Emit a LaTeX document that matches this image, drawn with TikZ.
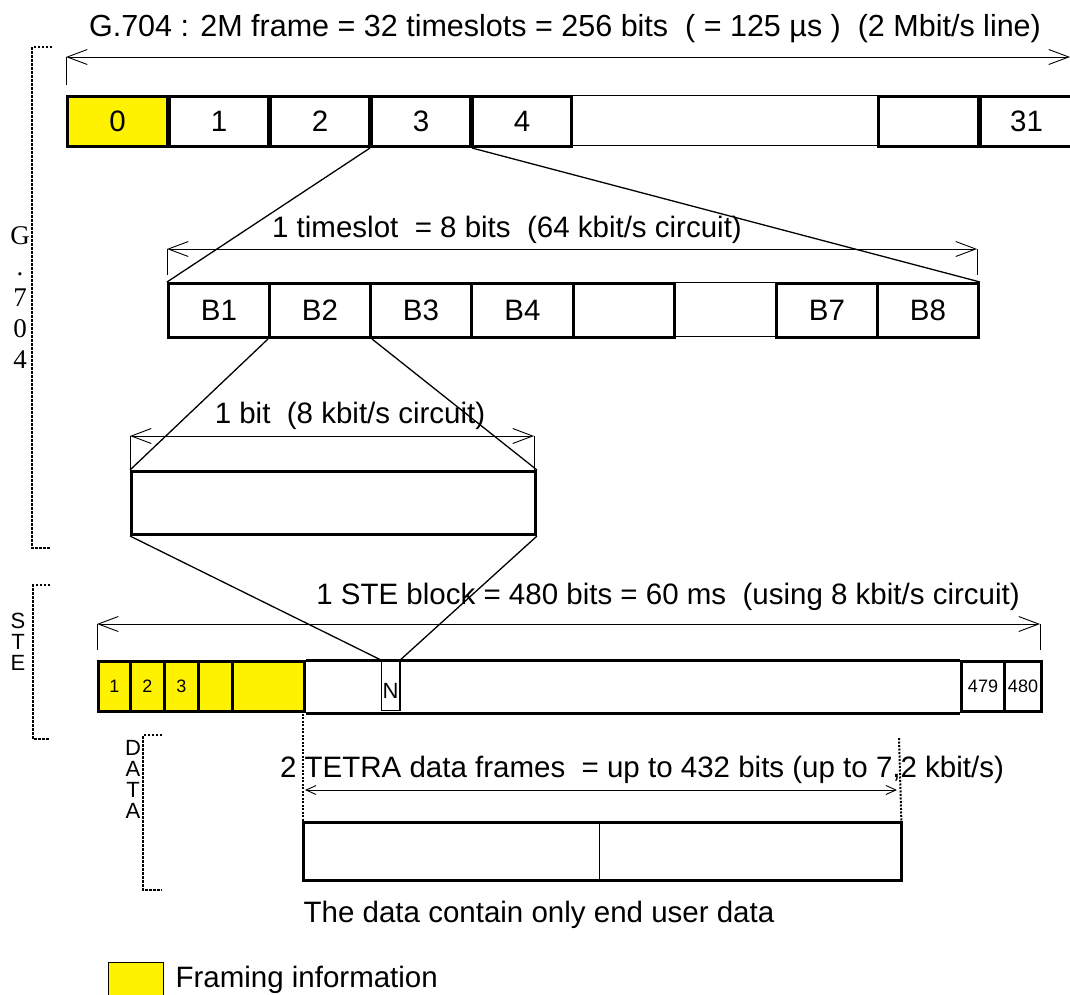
\documentclass[tikz,border=0pt]{standalone}
\usepackage{fontspec}
\setmainfont{Liberation Sans}
\newfontfamily\serifface{Liberation Serif}
\usetikzlibrary{arrows.meta}

\tikzset{
  slot/.style={draw,line width=3pt,inner sep=0pt,anchor=north west,font=\fontsize{29.5}{32}\selectfont},
  thinslot/.style={draw,line width=1.2pt,inner sep=0pt,anchor=north west},
  bare/.style={inner sep=0pt,anchor=north west},
  framing/.style={fill=yellow},
  small/.style={font=\fontsize{18}{20}\selectfont},
  big/.style={font=\fontsize{29.5}{32}\selectfont},
  stack/.style={font=\fontsize{22}{21}\selectfont,align=center,inner sep=0pt},
  dim/.style={line width=0.9pt,{Straight Barb[length=20pt,width=15pt]}-{Straight Barb[length=20pt,width=15pt]}},
  shortdim/.style={line width=0.9pt,{Straight Barb[length=10pt,width=9pt]}-{Straight Barb[length=10pt,width=9pt]}},
  tick/.style={line width=0.9pt},
  link/.style={line width=1.3pt},
  bracket/.style={line width=2.5pt,dash pattern=on 2.5pt off 1.5pt},
  guide/.style={line width=2pt,dash pattern=on 2pt off 1.5pt},
}

\begin{document}
\begin{tikzpicture}[x=1pt,y=-1pt]
  \useasboundingbox (0,0) rectangle (1070,994);

  % G.704 frame of 32 timeslots
  \node[font=\fontsize{30.5}{32}\selectfont] (frametitle) at (565,29) {G.704 : 2M frame = 32 timeslots = 256 bits\ \ ( = 125 µs )\ \ (2 Mbit/s line)};
  \coordinate (frameL) at (66,57);
  \coordinate (frameR) at (1070,57);
  \draw[dim] (frameL) -- (frameR);
  \draw[tick] (frameL) -- ++(0,28);
  \node[thinslot,minimum width=307pt,minimum height=50pt] (ts5) at (570,95) {};
  \node[slot,framing,minimum width=100pt,minimum height=50pt] (ts0) at (66,95) {0};
  \node[slot,minimum width=99pt,minimum height=50pt] (ts1) at (168,95) {1};
  \node[slot,minimum width=99pt,minimum height=50pt] (ts2) at (269,95) {2};
  \node[slot,minimum width=99pt,minimum height=50pt] (ts3) at (370,95) {3};
  \node[slot,minimum width=99pt,minimum height=50pt] (ts4) at (471,95) {4};
  \node[slot,minimum width=100pt,minimum height=50pt] (ts6) at (877,95) {};
  \node[slot,minimum width=92pt,minimum height=50pt] (ts31) at (979,95) {31};

  % G.704 bracket
  \draw[bracket] (52,47) -- (32,47) -- (32,548) -- (50,548);
  \node[font=\serifface\fontsize{27}{31}\selectfont,align=center] (g704) at (20,298) {G\\.\\7\\0\\4};

  % one timeslot = 8 bits
  \node[big] (slottitle) at (507,230) {1 timeslot\ \ = 8 bits\ \ (64 kbit/s circuit)};
  \coordinate (slotL) at (167,249);
  \coordinate (slotR) at (977,249);
  \draw[dim] (slotL) -- (slotR);
  \draw[tick] (slotL) -- ++(0,26);
  \draw[tick] (slotR) -- ++(0,26);
  \node[thinslot,minimum width=102pt,minimum height=54pt] (b6) at (673,282) {};
  \node[slot,minimum width=101pt,minimum height=54pt] (b1) at (167,282) {B1};
  \node[slot,minimum width=101pt,minimum height=54pt] (b2) at (268,282) {B2};
  \node[slot,minimum width=101pt,minimum height=54pt] (b3) at (369,282) {B3};
  \node[slot,minimum width=102pt,minimum height=54pt] (b4) at (470,282) {B4};
  \node[slot,minimum width=101pt,minimum height=54pt] (b5) at (572,282) {};
  \node[slot,minimum width=101pt,minimum height=54pt] (b7) at (775,282) {B7};
  \node[slot,minimum width=101pt,minimum height=54pt] (b8) at (876,282) {B8};
  \draw[link] (ts3.south west) -- (b1.north west);
  \draw[link] (ts3.south east) -- (b8.north east);

  % one bit
  \node[big] (bittitle) at (350,416) {1 bit\ \ (8 kbit/s circuit)};
  \coordinate (bitL) at (130,436);
  \coordinate (bitR) at (534,436);
  \draw[dim] (bitL) -- (bitR);
  \draw[tick] (bitL) -- ++(0,34);
  \draw[tick] (bitR) -- ++(0,34);
  \node[slot,minimum width=404pt,minimum height=63pt] (bitbox) at (130,470) {};
  \draw[link] (b2.south west) -- (bitbox.north west);
  \draw[link] (b2.south east) -- (bitbox.north east);

  % STE block
  \node[big] (stetitle) at (668,597) {1 STE block = 480 bits = 60 ms\ \ (using 8 kbit/s circuit)};
  \coordinate (steL) at (97,624);
  \coordinate (steR) at (1040,624);
  \draw[dim] (steL) -- (steR);
  \draw[tick] (steL) -- ++(0,26);
  \draw[tick] (steR) -- ++(0,26);
  \node[bare,minimum width=78pt,minimum height=50pt] (sgap) at (303,660) {};
  \node[bare,minimum width=561pt,minimum height=50pt] (smid) at (399,660) {};
  \node[draw,line width=1.2pt,inner sep=0pt,anchor=north west,minimum width=18pt,minimum height=50pt] (sN) at (381,660) {};
  \node[font=\fontsize{22}{22}\selectfont,inner sep=0pt,yshift=-5pt] (sNtxt) at (sN) {N};
  \node[slot,framing,small,minimum width=32pt,minimum height=50pt] (s1) at (97,660) {1};
  \node[slot,framing,small,minimum width=34pt,minimum height=50pt] (s2) at (129,660) {2};
  \node[slot,framing,small,minimum width=34pt,minimum height=50pt] (s3) at (163,660) {3};
  \node[slot,framing,minimum width=34pt,minimum height=50pt] (s4) at (197,660) {};
  \node[slot,framing,minimum width=72pt,minimum height=50pt] (s5) at (231,660) {};
  \node[slot,small,minimum width=43pt,minimum height=50pt] (s479) at (960,660) {479};
  \node[slot,small,minimum width=37pt,minimum height=50pt] (s480) at (1003,660) {480};
  \draw[line width=3pt] (s5.north east) -- (s479.north west);
  \draw[line width=3pt] (s5.south east) -- (s479.south west);
  \draw[line width=1.8pt] (sN.north east) -- (sN.south east);
  \draw[link] (bitbox.south west) -- (sN.north west);
  \draw[link] (bitbox.south east) -- (sN.north east);

  % STE bracket
  \draw[bracket] (50,585) -- (33,585) -- (33,739) -- (50,739);
  \node[stack] (stetxt) at (18,642) {S\\T\\E};

  % TETRA data frames
  \node[big] (datatitle) at (642,770) {2 TETRA data frames\ \ = up to 432 bits (up to 7,2 kbit/s)};
  \node[bare,minimum width=296pt,minimum height=58pt] (frameA) at (303,822) {};
  \node[bare,minimum width=302pt,minimum height=58pt] (frameB) at (599,822) {};
  \draw[line width=3pt] (frameA.north west) rectangle (frameB.south east);
  \draw[line width=1.2pt] (frameA.north east) -- (frameA.south east);
  \coordinate (dataR) at (899,738);
  \draw[guide] (sgap.south west) -- (frameA.north west);
  \draw[guide] (dataR) -- (frameB.north east);
  \draw[shortdim] (305,790) -- (897,790);

  % DATA bracket
  \draw[bracket] (162,735) -- (143,735) -- (143,890) -- (162,890);
  \node[stack] (datatxt) at (133,779) {D\\A\\T\\A};

  \node[big] (datanote) at (539,915) {The data contain only end user data};

  % legend
  \node[draw,line width=1pt,fill=yellow,anchor=north west,minimum width=55pt,minimum height=40pt] (legbox) at (108,962) {};
  \node[big,anchor=west] (legtxt) at (172,980) {Framing information};
\end{tikzpicture}
\end{document}
